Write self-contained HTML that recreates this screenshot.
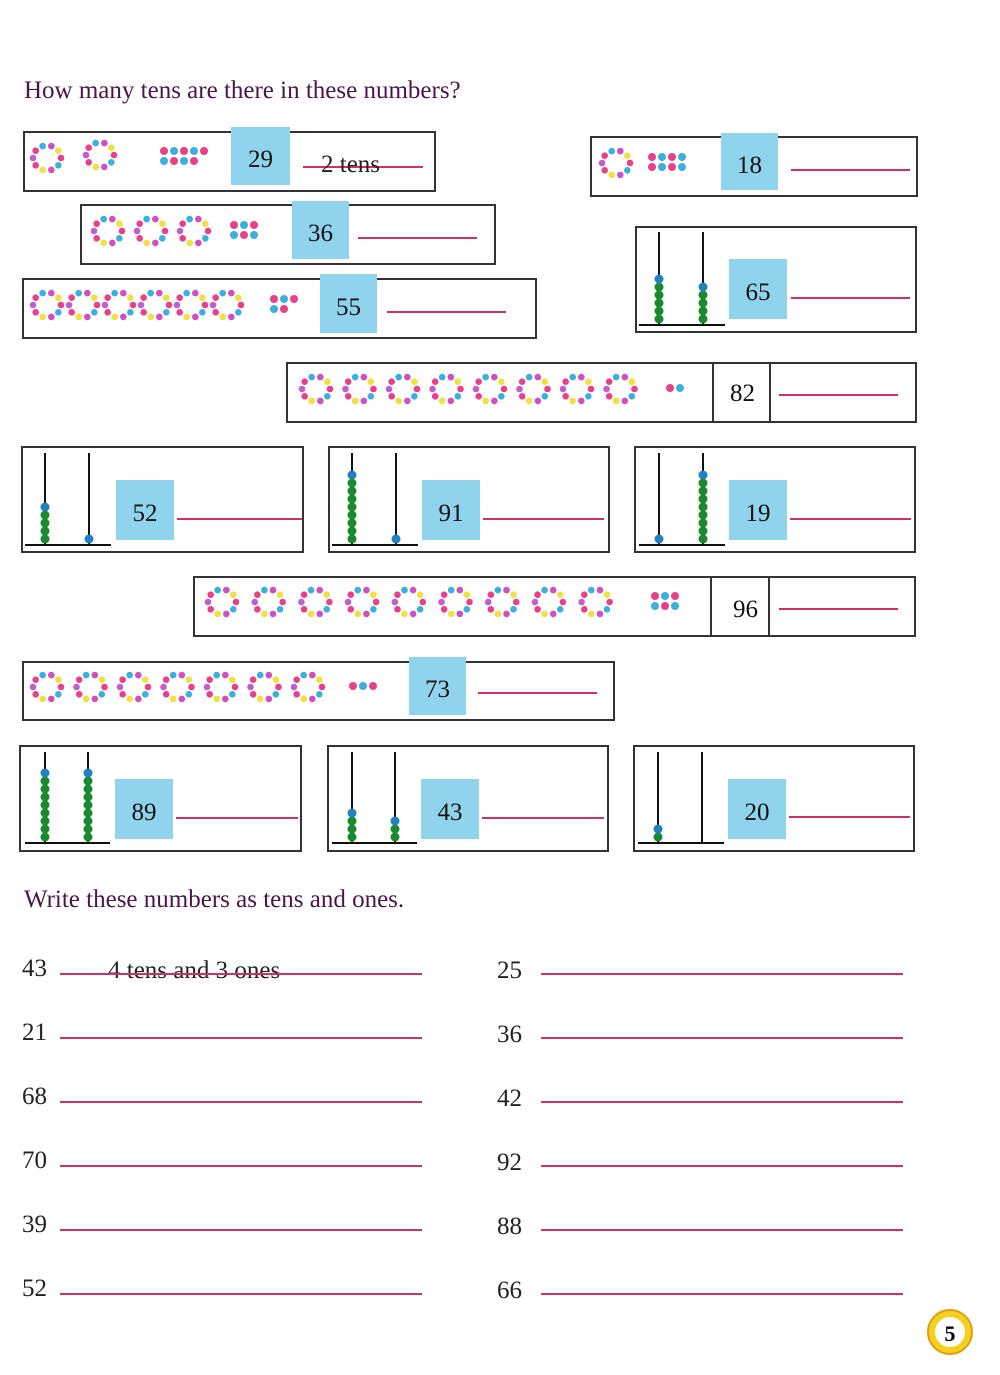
<!DOCTYPE html>
<html><head><meta charset="utf-8"><style>
body{margin:0;width:1000px;height:1375px;background:#fff;position:relative;overflow:hidden;font-family:"Liberation Serif",serif}
.a{position:absolute}
.box{position:absolute;border:2px solid #333;box-sizing:border-box}
.blue{position:absolute;background:#8fd3ec;font-size:25px;color:#111;display:flex;align-items:center;justify-content:center;padding-top:8px;box-sizing:border-box}
.num{position:absolute;font-size:25px;color:#111}
.ln{position:absolute;height:2px;background:#d0306a}
.h{position:absolute;font-size:25px;color:#4a1548}
.t{position:absolute;font-size:25px;color:#222}
.vd{position:absolute;width:2px;background:#333}
</style></head><body>
<div class="h" style="left:24px;top:77px">How many tens are there in these numbers?</div>
<div class="h" style="left:24px;top:886px">Write these numbers as tens and ones.</div>

<div class="box" style="left:23px;top:131px;width:413px;height:61px"></div>
<div class="blue" style="left:231px;top:127px;width:59px;height:58px">29</div>
<div class="ln" style="left:303px;top:166px;width:120px"></div>
<div class="t" style="left:321px;top:151px">2 tens</div>

<div class="box" style="left:590px;top:136px;width:328px;height:61px"></div>
<div class="blue" style="left:721px;top:133px;width:57px;height:57px">18</div>
<div class="ln" style="left:791px;top:169px;width:119px"></div>

<div class="box" style="left:80px;top:204px;width:416px;height:61px"></div>
<div class="blue" style="left:292px;top:201px;width:57px;height:58px">36</div>
<div class="ln" style="left:358px;top:237px;width:119px"></div>

<div class="box" style="left:635px;top:226px;width:282px;height:107px"></div>
<div class="blue" style="left:729px;top:259px;width:58px;height:60px">65</div>
<div class="ln" style="left:791px;top:297px;width:119px"></div>

<div class="box" style="left:22px;top:278px;width:515px;height:61px"></div>
<div class="blue" style="left:320px;top:274px;width:57px;height:59px">55</div>
<div class="ln" style="left:387px;top:311px;width:119px"></div>

<div class="box" style="left:286px;top:362px;width:631px;height:61px"></div>
<div class="vd" style="left:712px;top:362px;height:61px"></div>
<div class="vd" style="left:769px;top:362px;height:61px"></div>
<div class="num" style="left:730px;top:380px">82</div>
<div class="ln" style="left:779px;top:394px;width:119px"></div>

<div class="box" style="left:21px;top:446px;width:283px;height:107px"></div>
<div class="blue" style="left:116px;top:480px;width:58px;height:60px">52</div>
<div class="ln" style="left:177px;top:518px;width:125px"></div>

<div class="box" style="left:328px;top:446px;width:282px;height:107px"></div>
<div class="blue" style="left:422px;top:480px;width:58px;height:60px">91</div>
<div class="ln" style="left:483px;top:518px;width:121px"></div>

<div class="box" style="left:634px;top:446px;width:282px;height:107px"></div>
<div class="blue" style="left:729px;top:480px;width:58px;height:60px">19</div>
<div class="ln" style="left:790px;top:518px;width:121px"></div>

<div class="box" style="left:193px;top:576px;width:723px;height:61px"></div>
<div class="vd" style="left:710px;top:576px;height:61px"></div>
<div class="vd" style="left:768px;top:576px;height:61px"></div>
<div class="num" style="left:733px;top:596px">96</div>
<div class="ln" style="left:779px;top:608px;width:119px"></div>

<div class="box" style="left:22px;top:661px;width:593px;height:60px"></div>
<div class="blue" style="left:409px;top:657px;width:57px;height:58px">73</div>
<div class="ln" style="left:478px;top:692px;width:119px"></div>

<div class="box" style="left:19px;top:745px;width:283px;height:107px"></div>
<div class="blue" style="left:115px;top:779px;width:58px;height:60px">89</div>
<div class="ln" style="left:176px;top:817px;width:122px"></div>

<div class="box" style="left:327px;top:745px;width:282px;height:107px"></div>
<div class="blue" style="left:421px;top:779px;width:58px;height:60px">43</div>
<div class="ln" style="left:482px;top:817px;width:122px"></div>

<div class="box" style="left:633px;top:745px;width:282px;height:107px"></div>
<div class="blue" style="left:728px;top:779px;width:58px;height:60px">20</div>
<div class="ln" style="left:789px;top:816px;width:121px"></div>

<div class="t" style="left:22px;top:955px">43</div><div class="t" style="left:108px;top:957px">4 tens and 3 ones</div>
<div class="t" style="left:22px;top:1019px">21</div>
<div class="t" style="left:22px;top:1083px">68</div>
<div class="t" style="left:22px;top:1147px">70</div>
<div class="t" style="left:22px;top:1211px">39</div>
<div class="t" style="left:22px;top:1275px">52</div>
<div class="t" style="left:497px;top:957px">25</div>
<div class="t" style="left:497px;top:1021px">36</div>
<div class="t" style="left:497px;top:1085px">42</div>
<div class="t" style="left:497px;top:1149px">92</div>
<div class="t" style="left:497px;top:1213px">88</div>
<div class="t" style="left:497px;top:1277px">66</div>

<svg class="a" style="left:0;top:0" width="1000" height="1375" id="s">
<g stroke="#d0306a" stroke-width="2">
<line x1="60" y1="974" x2="422" y2="974"/><line x1="60" y1="1038" x2="422" y2="1038"/><line x1="60" y1="1102" x2="422" y2="1102"/><line x1="60" y1="1166" x2="422" y2="1166"/><line x1="60" y1="1230" x2="422" y2="1230"/><line x1="60" y1="1294" x2="422" y2="1294"/>
<line x1="541" y1="974" x2="903" y2="974"/><line x1="541" y1="1038" x2="903" y2="1038"/><line x1="541" y1="1102" x2="903" y2="1102"/><line x1="541" y1="1166" x2="903" y2="1166"/><line x1="541" y1="1230" x2="903" y2="1230"/><line x1="541" y1="1294" x2="903" y2="1294"/>
</g>
<g fill="#f5d020" stroke="#e0a010" stroke-width="2"><circle cx="950" cy="1332" r="22"/></g>
<circle cx="950" cy="1332" r="15" fill="#fff"/>
<text x="950" y="1341" text-anchor="middle" font-family="Liberation Serif" font-weight="bold" font-size="22">5</text>
</svg>
<script>
var s=document.getElementById('s'),N='http://www.w3.org/2000/svg';
function c(x,y,r,f){var e=document.createElementNS(N,'circle');e.setAttribute('cx',x);e.setAttribute('cy',y);e.setAttribute('r',r);e.setAttribute('fill',f);s.appendChild(e);}
function l(x1,y1,x2,y2,w){var e=document.createElementNS(N,'line');e.setAttribute('x1',x1);e.setAttribute('y1',y1);e.setAttribute('x2',x2);e.setAttribute('y2',y2);e.setAttribute('stroke','#111');e.setAttribute('stroke-width',w||2);s.appendChild(e);}
var cols=['#e8408a','#3ab0e0','#d050c0','#f0e040','#e8408a','#c060d0'];
function ring(x,y){for(var i=0;i<10;i++){var a=i/10*6.283;c(x+14*Math.cos(a),y+12.5*Math.sin(a),3.3,cols[i%6]);}}
function rings(x0,dx,n,y){for(var i=0;i<n;i++)ring(x0+i*dx,y);}
function dots(x,y,n,m){var k=0;for(var r=0;r<2;r++)for(var j=0;j<m&&k<n;j++,k++)c(x+j*10,y+r*10,4,k%2?'#3ab0e0':'#e8408a');}
function ab(x1,x2,top,base,n1,n2){l(x1,top,x1,base);l(x2,top,x2,base);l(x1-20,base,x2+22,base);
[[x1,n1],[x2,n2]].forEach(function(p){for(var i=0;i<p[1];i++)c(p[0],base-6-i*8,4.5,i==p[1]-1?'#2080c0':'#1a8a30');});}
ring(47,158);ring(100,155);dots(164,151,9,5);
ring(616,163);dots(652,157,8,4);
rings(108,43,3,231);dots(234,225,6,3);
rings(47,36,6,305);dots(274,299,5,3);
rings(316,43.5,8,389);dots(670,388,2,2);
rings(222,46.7,9,602);dots(655,596,6,3);
rings(47,43.5,7,687);dots(353,686,3,3);
ab(659,703,232,325,6,5);
ab(45,89,453,545,5,1);ab(352,396,453,545,9,1);ab(659,703,453,545,1,9);
ab(45,88,752,843,9,9);ab(352,395,752,843,4,3);ab(658,702,752,843,2,0);
</script>
</body></html>
